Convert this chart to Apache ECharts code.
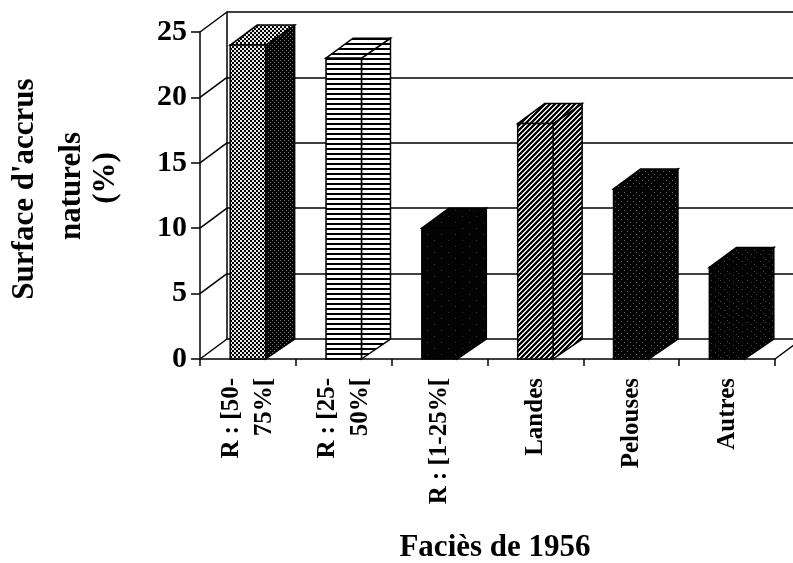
<!DOCTYPE html>
<html>
<head>
<meta charset="utf-8">
<script src="https://cdn.jsdelivr.net/npm/echarts@6/dist/echarts.min.js"></script>
<style>
  html, body { margin: 0; padding: 0; background: #fff; }
  #chart { width: 793px; height: 563px; }
</style>
</head>
<body>
<div id="chart"></div>
<script>
// data
const categories = ['R : [50-\n75%[', 'R : [25-\n50%[', 'R : [1-25%[', 'Landes', 'Pelouses', 'Autres']
const values = [24, 23, 10, 18, 13, 7]
const yTicks = [0, 5, 10, 15, 20, 25]

// 3d depth offset of the box (back wall / bar depth)
const DX = 27
const DY = -20
const FONT = 'Liberation Serif'

// small canvas tiles used as fill patterns
function tile (w, h, draw) {
  const c = document.createElement('canvas')
  c.width = w
  c.height = h
  const g = c.getContext('2d')
  draw(g, w, h)
  return { image: c, repeat: 'repeat' }
}
function dots (w, h, bg, fg, pts, size) {
  return tile(w, h, (g) => {
    g.fillStyle = bg
    g.fillRect(0, 0, w, h)
    g.fillStyle = fg
    pts.forEach(p => g.fillRect(p[0], p[1], size || 1, size || 1))
  })
}
const checkLight = dots(4, 4, '#000', '#e8e8e8', [[0, 0], [2, 2]], 2)
const checkDark = dots(4, 4, '#000', '#777', [[0, 0], [2, 2]], 1)
const stripes = tile(4, 5, (g) => {
  g.fillStyle = '#fff'
  g.fillRect(0, 0, 4, 5)
  g.fillStyle = '#000'
  g.fillRect(0, 3, 4, 2)
})
const hatch = tile(5, 5, (g) => {
  g.fillStyle = '#000'
  g.fillRect(0, 0, 5, 5)
  g.fillStyle = '#e0e0e0'
  for (let x = 0; x < 5; x++) {
    for (let y = 0; y < 5; y++) {
      const k = (x + y) % 5
      if (k === 0 || k === 1) g.fillRect(x, y, 1, 1)
    }
  }
})
const nearBlack = dots(14, 12, '#030303', '#333', [[0, 0], [7, 6]], 1)
const sparseDots = dots(6, 6, '#000', '#666', [[0, 0], [3, 3]], 1)
const speckle = dots(9, 7, '#000', '#4a4a4a', [[0, 0], [4, 2], [7, 5]], 1)

const barFills = [
  { front: checkLight, side: checkDark, top: checkLight },
  { front: stripes, side: stripes, top: stripes },
  { front: nearBlack, side: nearBlack, top: nearBlack },
  { front: hatch, side: hatch, top: hatch },
  { front: sparseDots, side: sparseDots, top: sparseDots },
  { front: speckle, side: speckle, top: speckle }
]

const edge = { stroke: '#000', lineWidth: 1.5 }

const chart = echarts.init(document.getElementById('chart'), null, { renderer: 'canvas' })

const options = {
  backgroundColor: '#fff',
  animation: false,
  grid: [
    { left: 200, top: 32, width: 575, height: 327 },
    { left: 200 + DX, top: 32 + DY, width: 575, height: 327 }
  ],
  xAxis: [
    {
      type: 'category',
      gridIndex: 0,
      data: categories,
      axisLine: { lineStyle: { color: '#000', width: 1.5 } },
      axisTick: { show: true, length: 7, lineStyle: { color: '#000', width: 1.5 } },
      axisLabel: {
        rotate: 90,
        margin: 19,
        interval: 0,
        color: '#000',
        fontFamily: FONT,
        fontWeight: 'bold',
        fontSize: 25,
        lineHeight: 33
      }
    },
    { type: 'category', gridIndex: 1, data: categories, show: false }
  ],
  yAxis: [
    {
      type: 'value',
      gridIndex: 0,
      min: 0,
      max: 25,
      interval: 5,
      axisLine: { show: true, lineStyle: { color: '#000', width: 1.5 } },
      axisTick: { show: true, length: 9, lineStyle: { color: '#000', width: 1.5 } },
      axisLabel: {
        margin: 13,
        color: '#000',
        fontFamily: FONT,
        fontWeight: 'bold',
        fontSize: 30
      },
      splitLine: { show: false }
    },
    {
      type: 'value',
      gridIndex: 1,
      min: 0,
      max: 25,
      interval: 5,
      axisLine: { show: true, lineStyle: { color: '#000', width: 1.5 } },
      axisTick: { show: false },
      axisLabel: { show: false },
      splitLine: { show: true, lineStyle: { color: '#000', width: 1.5 } }
    }
  ],
  series: [
    {
      // left wall diagonals and right floor edge
      type: 'custom',
      xAxisIndex: 0,
      yAxisIndex: 0,
      z: 1,
      silent: true,
      data: yTicks.map(t => [0, t]),
      renderItem (params, api) {
        const cs = params.coordSys
        const y = api.coord([0, api.value(1)])[1]
        const kids = [{
          type: 'line',
          shape: { x1: cs.x, y1: y, x2: cs.x + DX, y2: y + DY },
          style: { stroke: '#000', lineWidth: 1.5 }
        }]
        if (api.value(1) === 0) {
          kids.push({
            type: 'line',
            shape: { x1: cs.x + cs.width, y1: y, x2: cs.x + cs.width + DX, y2: y + DY },
            style: { stroke: '#000', lineWidth: 1.5 }
          })
        }
        return { type: 'group', children: kids }
      }
    },
    {
      type: 'custom',
      xAxisIndex: 0,
      yAxisIndex: 0,
      z: 3,
      data: values.map((v, i) => [i, v]),
      encode: { x: 0, y: 1 },
      renderItem (params, api) {
        const i = api.value(0)
        const top = api.coord([i, api.value(1)])
        const base = api.coord([i, 0])
        const band = api.size([1, 0])[0]
        const w = band * 0.37
        const x0 = top[0] - w / 2
        const x1 = top[0] + w / 2
        const yT = top[1]
        const yB = base[1]
        const f = barFills[i]
        return {
          type: 'group',
          children: [
            {
              type: 'polygon',
              shape: { points: [[x1, yB], [x1 + DX + 2, yB + DY], [x1 + DX + 2, yT + DY], [x1, yT]] },
              style: Object.assign({ fill: f.side }, edge)
            },
            {
              type: 'polygon',
              shape: { points: [[x0, yT], [x0 + DX, yT + DY], [x1 + DX + 2, yT + DY], [x1, yT]] },
              style: Object.assign({ fill: f.top }, edge)
            },
            {
              type: 'rect',
              shape: { x: x0, y: yT, width: w, height: yB - yT },
              style: Object.assign({ fill: f.front }, edge)
            }
          ]
        }
      }
    }
  ],
  graphic: [
    {
      type: 'text', x: 25, y: 189, rotation: Math.PI / 2,
      style: { text: "Surface d'accrus", font: 'bold 31px ' + FONT, fill: '#000', align: 'center', verticalAlign: 'middle' }
    },
    {
      type: 'text', x: 72, y: 186, rotation: Math.PI / 2,
      style: { text: 'naturels', font: 'bold 31px ' + FONT, fill: '#000', align: 'center', verticalAlign: 'middle' }
    },
    {
      type: 'text', x: 106, y: 178, rotation: Math.PI / 2,
      style: { text: '(%)', font: 'bold 31px ' + FONT, fill: '#000', align: 'center', verticalAlign: 'middle' }
    },
    {
      type: 'text', x: 495, y: 548,
      style: { text: 'Faciès de 1956', font: 'bold 31px ' + FONT, fill: '#000', align: 'center', verticalAlign: 'middle' }
    }
  ]
}

chart.setOption(options)
</script>
</body>
</html>
